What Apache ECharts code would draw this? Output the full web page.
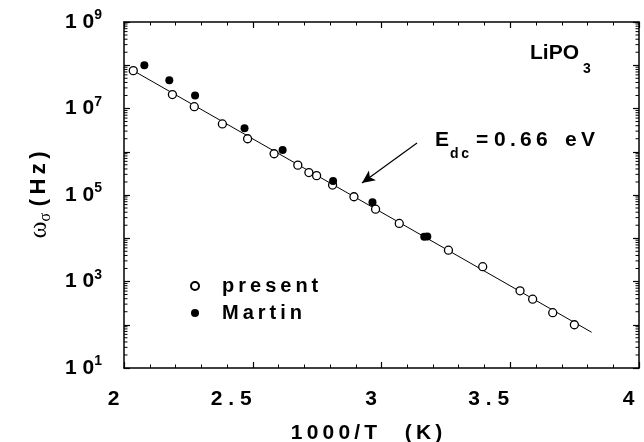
<!DOCTYPE html>
<html><head><meta charset="utf-8">
<script src="https://cdn.jsdelivr.net/npm/echarts@6/dist/echarts.min.js"></script>
<style>html,body{margin:0;padding:0;background:#fff}#c{width:644px;height:442px}</style>
</head><body><div id="c"></div>
<script>
// ---- data ----
const presentX = [2.036, 2.188, 2.273, 2.382, 2.480, 2.583, 2.675, 2.718, 2.748, 2.810, 2.893, 2.977, 3.069, 3.260, 3.393, 3.538, 3.587, 3.665, 3.749];
const presentY = [7.5e7, 2.1e7, 1.1e7, 4.4e6, 2.0e6, 9.0e5, 4.9e5, 3.3e5, 2.8e5, 1.7e5, 9.1e4, 4.7e4, 2.2e4, 5.3e3, 2.2e3, 6.1e2, 3.9e2, 1.9e2, 1.0e2];
const martinX = [2.079, 2.176, 2.276, 2.468, 2.616, 2.812, 2.965, 3.166, 3.178];
const martinY = [1.0e8, 4.5e7, 2.0e7, 3.5e6, 1.1e6, 2.1e5, 6.8e4, 1.09e4, 1.1e4];
const fitX = [2.036, 3.816];
const fitY = [7.5e7, 6.7e1];
const arrowX = [3.138, 2.924];
const arrowY = [1.59e6, 1.89e5];
const xTickValues = [2, 2.5, 3, 3.5, 4];
const xTickLabels = ['2', '2 . 5', '3', '3 . 5', '4'];
const yLabelExponents = [1, 3, 5, 7, 9];
const yDecades = [1, 2, 3, 4, 5, 6, 7, 8];
const yMinorMultipliers = [2, 3, 4, 5, 6, 7, 8, 9];
const legendNames = ['present', 'Martin'];

const FF = '"Liberation Sans", Arial, Helvetica, sans-serif';
const TH = '\u2009';
const spaced = s => s.split('').join(TH);

const zip = (a, b) => a.map((v, i) => [v, b[i]]);
const minorY = [];
yDecades.forEach(d => yMinorMultipliers.forEach(m => minorY.push([2, m * Math.pow(10, d)])));

const chart = echarts.init(document.getElementById('c'), null, {renderer: 'canvas'});
const axisLineStyle = {color: '#000', width: 1.5};
const baseBold = {fontFamily: FF, fontWeight: 'bold', color: '#000'};

chart.setOption({
  animation: false,
  backgroundColor: '#fff',
  grid: {left: 124, right: 5, top: 22, bottom: 74, containLabel: false, outerBoundsMode: 'none'},
  legend: {
    data: legendNames, orient: 'vertical', left: 185, top: 271,
    itemWidth: 8, itemHeight: 8, itemGap: 7, selectedMode: false,
    formatter: n => '{t|' + spaced(n) + '}',
    textStyle: Object.assign({fontSize: 20}, baseBold, {rich: {t: Object.assign({fontSize: 20, padding: [0, 0, 0, 18]}, baseBold)}})
  },
  xAxis: [{
    type: 'value', min: 2, max: 4, interval: 0.5, position: 'bottom',
    axisLine: {lineStyle: axisLineStyle},
    axisTick: {inside: true, length: 6, lineStyle: {color: '#000', width: 1.2}},
    minorTick: {show: true, splitNumber: 5, length: 3.5, lineStyle: {color: '#000', width: 1}},
    splitLine: {show: false},
    axisLabel: {
      margin: 21, showMinLabel: true, showMaxLabel: true,
      formatter: v => {
        const i = xTickValues.findIndex(t => Math.abs(t - v) < 1e-9);
        if (i < 0) return '';
        return (Number.isInteger(v) ? '{i|' : '{h|') + xTickLabels[i] + '}';
      },
      rich: {
        i: Object.assign({fontSize: 21, padding: [0, 21, 0, 0]}, baseBold),
        h: Object.assign({fontSize: 21, padding: [0, 43, 0, 0]}, baseBold)
      }
    },
    name: spaced('1000/T') + '    ' + TH + spaced('(K)'),
    nameLocation: 'middle', nameGap: 55,
    nameTextStyle: Object.assign({fontSize: 21, padding: [0, 30, 0, 0]}, baseBold)
  }, {
    type: 'value', min: 2, max: 4, interval: 0.5, position: 'top',
    axisLine: {lineStyle: axisLineStyle},
    axisTick: {inside: true, length: 6, lineStyle: {color: '#000', width: 1.2}},
    minorTick: {show: true, splitNumber: 5, length: 3.5, lineStyle: {color: '#000', width: 1}},
    splitLine: {show: false}, axisLabel: {show: false}
  }],
  yAxis: [{
    type: 'log', logBase: 10, min: 10, max: 1e9, interval: 1, position: 'left',
    axisLine: {lineStyle: axisLineStyle},
    axisTick: {inside: true, length: 6, lineStyle: {color: '#000', width: 1.2}},
    splitLine: {show: false},
    axisLabel: {
      margin: 22,
      formatter: v => {
        const e = Math.round(Math.log10(v));
        if (!yLabelExponents.includes(e)) return '';
        return '{b|1 0}{s|' + e + '}';
      },
      rich: {
        b: Object.assign({fontSize: 21, lineHeight: 27, verticalAlign: 'middle'}, baseBold),
        s: Object.assign({fontSize: 14, lineHeight: 14, verticalAlign: 'top'}, baseBold)
      }
    },
    name: '{w|ω}{s|σ}' + '  {h|' + spaced('(Hz)') + '}',
    nameLocation: 'middle', nameGap: 70,
    nameTextStyle: {
      rich: {
        w: {fontSize: 26, fontFamily: '"Liberation Serif", serif', color: '#000', lineHeight: 30, verticalAlign: 'middle'},
        s: {fontSize: 16, fontFamily: '"Liberation Serif", serif', color: '#000', lineHeight: 15, verticalAlign: 'bottom'},
        h: Object.assign({fontSize: 22, lineHeight: 30, verticalAlign: 'middle'}, baseBold)
      }
    }
  }, {
    type: 'log', logBase: 10, min: 10, max: 1e9, interval: 1, position: 'right',
    axisLine: {lineStyle: axisLineStyle},
    axisTick: {inside: true, length: 6, lineStyle: {color: '#000', width: 1.2}},
    splitLine: {show: false}, axisLabel: {show: false}
  }],
  graphic: [
    {type: 'text', x: 530, y: 53, style: {text: 'LiPO', fill: '#000', font: 'bold 21px ' + FF, verticalAlign: 'middle', align: 'left'}},
    {type: 'text', x: 583, y: 69, style: {text: '3', fill: '#000', font: 'bold 14px ' + FF, verticalAlign: 'middle', align: 'left'}},
    {type: 'text', x: 435, y: 140, style: {text: 'E', fill: '#000', font: 'bold 21px ' + FF, verticalAlign: 'middle', align: 'left'}},
    {type: 'text', x: 450, y: 154, style: {text: spaced('dc'), fill: '#000', font: 'bold 14px ' + FF, verticalAlign: 'middle', align: 'left'}},
    {type: 'text', x: 476, y: 140, style: {text: '= ' + spaced('0.66') + '   ' + spaced('eV'), fill: '#000', font: 'bold 21px ' + FF, verticalAlign: 'middle', align: 'left'}}
  ],
  series: [
    {
      type: 'custom', silent: true, xAxisIndex: 0, yAxisIndex: 0, data: minorY, z: 1,
      renderItem: (params, api) => {
        const y = api.coord([2, api.value(1)])[1];
        const cs = params.coordSys;
        return {type: 'group', children: [
          {type: 'line', shape: {x1: cs.x, y1: y, x2: cs.x + 3.5, y2: y}, style: {stroke: '#000', lineWidth: 1}},
          {type: 'line', shape: {x1: cs.x + cs.width, y1: y, x2: cs.x + cs.width - 3.5, y2: y}, style: {stroke: '#000', lineWidth: 1}}
        ]};
      }
    },
    {
      name: 'fit', type: 'line', data: zip(fitX, fitY), showSymbol: false, silent: true, z: 2,
      lineStyle: {color: '#000', width: 1},
      markLine: {
        silent: true, symbol: ['none', 'arrow'], symbolSize: [9, 13],
        label: {show: false},
        lineStyle: {color: '#000', width: 1.2, type: 'solid'},
        data: [[{coord: [arrowX[0], arrowY[0]]}, {coord: [arrowX[1], arrowY[1]]}]]
      }
    },
    {
      name: 'present', type: 'scatter', data: zip(presentX, presentY), symbol: 'circle', symbolSize: 8, z: 3,
      itemStyle: {color: '#fff', borderColor: '#000', borderWidth: 1.3, opacity: 1}
    },
    {
      name: 'Martin', type: 'scatter', data: zip(martinX, martinY), symbol: 'circle', symbolSize: 8, z: 4,
      itemStyle: {color: '#000', borderColor: '#000', borderWidth: 0, opacity: 1}
    }
  ]
});
</script></body></html>
